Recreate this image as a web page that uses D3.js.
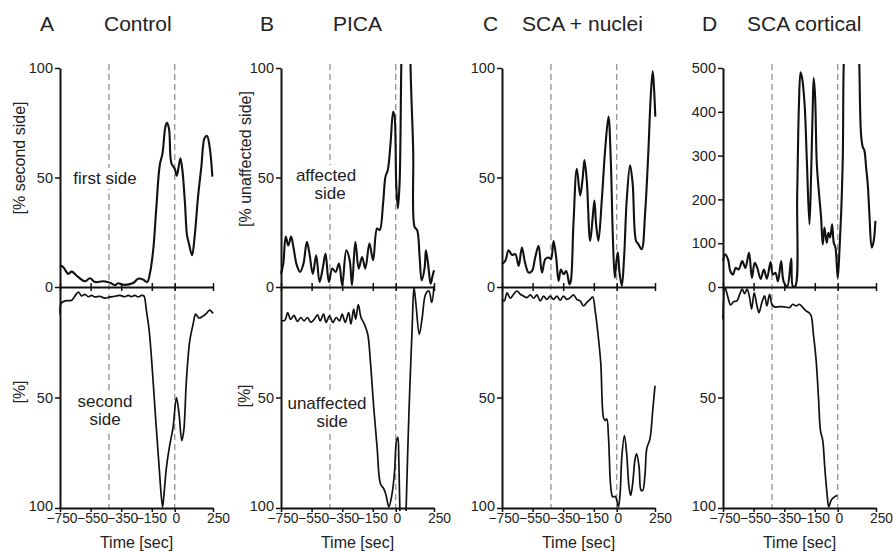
<!DOCTYPE html>
<html>
<head>
<meta charset="utf-8">
<script src="https://cdn.jsdelivr.net/npm/d3@7"></script>
<style>
  body { margin: 0; background: #fff; }
  svg { display: block; font-family: "Liberation Sans", Arial, sans-serif; }
</style>
</head>
<body>
<script>
// panel names and tick labels
const letters = ["A", "B", "C", "D"];
const titles = ["Control", "PICA", "SCA + nuclei", "SCA cortical"];
const xTicks = [-750, -550, -350, -150, 0, 250];
const pctTicks = [0, 50, 100];
const cortTicks = [0, 100, 200, 300, 400, 500];
const markTimes = [-430, 0];

// upper traces [time sec, value], values above the axis top run off the chart
const controlFirst = [[-750,9.9],[-728,9],[-696,6],[-674,7],[-630,4.5],[-587,2.6],[-554,4],[-522,2.3],[-467,2.6],[-424,2],[-391,0.8],[-370,1.7],[-337,1],[-272,1.8],[-239,3.8],[-207,3.4],[-180,2.3],[-163,6],[-141,16.8],[-120,36.6],[-98,55.7],[-80,61],[-61,73.3],[-50,75],[-37,72],[-22,56.5],[0,54],[13,50.8],[26,55],[37,58.8],[50,53.4],[67,38],[80,23.7],[93,19.8],[113,14.5],[130,23],[152,41],[174,55],[195,68],[211,69],[228,64],[246,50.4]];
const picaAffected = [[-750,6],[-735,10.7],[-719,23],[-702,19],[-684,23],[-669,18.3],[-647,10],[-625,6.9],[-603,10.7],[-581,20.6],[-564,15.3],[-542,6],[-520,14.5],[-498,2.3],[-476,9],[-459,15.3],[-437,2.3],[-415,8.4],[-393,6.9],[-371,10.7],[-350,0.8],[-323,16.8],[-301,12.2],[-286,0.8],[-264,20.6],[-242,8.4],[-220,13.7],[-199,8.4],[-172,19.8],[-148,12.2],[-122,26.7],[-105,26],[-83,38],[-67,50.4],[-52,53.4],[-34,65.6],[-17,80],[-8,78],[3,47.3],[14,35.9],[25,47.3],[36,100],[50,160],[70,200],[90,160],[97,100],[114,62.6],[123,27.5],[140,26],[156,13.7],[169,3],[189,9],[197,16.8],[211,10.7],[228,1.5],[239,4.6],[250,7.6]];
const scaNucleiUp = [[-750,10.4],[-728,12],[-707,16.8],[-685,14.7],[-663,15],[-641,9.6],[-620,18],[-598,10.7],[-576,6.6],[-554,7.3],[-533,13.5],[-511,18.8],[-489,6.6],[-467,12.7],[-446,13.5],[-430,12.7],[-413,21],[-396,13.5],[-380,2.8],[-365,8],[-348,5.8],[-330,7.3],[-309,1.2],[-300,2.8],[-283,28.8],[-261,54],[-239,41.8],[-222,50.2],[-211,58],[-196,48.7],[-174,21],[-157,31.9],[-146,39.5],[-135,28.8],[-120,21],[-98,39.5],[-76,62.5],[-54,77.8],[-39,57.9],[-26,24.2],[-13,4.3],[-4,10.4],[7,15.8],[17,7.3],[33,0.5],[48,13.5],[65,39.5],[87,55.6],[104,47.2],[126,21],[141,19.6],[163,17.3],[185,33.4],[207,62.5],[222,87],[235,98.5],[243,91.6],[252,77.8]];
const scaCorticalUp = [[-750,59],[-735,74.4],[-717,62.9],[-702,36],[-685,28.4],[-667,43.7],[-648,39.9],[-624,59],[-604,43.7],[-580,78.2],[-561,20.7],[-543,55.2],[-526,43.7],[-504,18.4],[-483,39.9],[-463,19.2],[-439,56.7],[-424,28.4],[-407,32.2],[-391,13],[-370,59],[-354,13],[-330,1.5],[-304,65.2],[-293,1.5],[-278,1.5],[-265,212],[-254,412],[-243,490],[-233,477],[-217,419],[-202,289],[-185,143],[-174,258],[-163,419],[-157,477],[-148,435],[-137,282],[-124,220],[-109,159],[-98,97],[-87,136],[-72,101],[-61,124],[-50,113],[-37,143],[-26,101],[-15,90],[0,20.7],[11,82],[22,166],[33,297],[39,507],[60,700],[100,800],[130,680],[141,507],[152,350],[163,320],[174,312],[185,274],[196,235],[207,166],[222,90],[235,105],[246,151]];

// lower traces [time sec, %], drawn downward
const controlSecond = [[-750,12.3],[-743,7.5],[-717,6.3],[-674,6],[-652,4],[-630,2.3],[-609,4],[-587,3.3],[-565,4.4],[-543,3.8],[-522,4.5],[-489,4.2],[-457,5],[-424,4.5],[-391,4.2],[-359,3.8],[-326,4.4],[-304,3.8],[-283,4.4],[-261,3.8],[-239,4.5],[-217,3.8],[-202,4],[-185,10.8],[-167,19.8],[-146,38],[-124,60.5],[-102,81.5],[-80,99.5],[-72,95],[-54,81.5],[-33,71.7],[-11,63.5],[11,50],[28,57.4],[46,69.5],[59,65],[76,42.4],[98,24.4],[120,16.8],[137,12.3],[157,14],[178,13.5],[202,12.3],[228,10.5],[250,12]];
const picaUnaffected = [[-750,15.3],[-724,15],[-706,11.6],[-687,14.6],[-665,12.8],[-643,15.6],[-621,13.8],[-599,15.3],[-577,13.8],[-555,16],[-533,14.6],[-511,12.6],[-494,15.3],[-472,12.3],[-455,16],[-433,13],[-411,16],[-389,13.8],[-367,15.3],[-350,12.3],[-330,16],[-308,11.6],[-293,16.8],[-275,10],[-262,14.6],[-245,8],[-227,13.8],[-205,16.8],[-183,21.4],[-166,33.4],[-144,54.4],[-122,72.5],[-100,89],[-78,91.3],[-63,94.3],[-45,99.5],[-24,93.5],[-8,83.8],[5,69.5],[14,68],[20,78.5],[27,101],[38,140],[53,150],[65,110],[68,100],[86,57.4],[108,16.8],[119,0.3],[132,7.8],[154,21.4],[173,13.8],[195,3.3],[217,1.8],[235,7],[250,-0.5]];
const scaNucleiDown = [[-750,5.6],[-735,6.3],[-717,2.6],[-696,5.1],[-674,3.3],[-652,1.8],[-630,3.3],[-609,4.1],[-587,4.8],[-565,3.6],[-543,5.1],[-522,3.6],[-500,6.3],[-478,4.1],[-457,5.6],[-435,4.1],[-413,5.6],[-391,4.1],[-370,6],[-348,4.1],[-326,5.6],[-304,4.8],[-283,3.6],[-261,5.6],[-239,6.3],[-217,8.6],[-196,7],[-174,5.6],[-157,4.5],[-141,10.8],[-120,22.9],[-104,34.9],[-87,59],[-76,60.5],[-65,59.7],[-54,67.8],[-39,90.5],[-26,95],[-11,94.7],[0,96.5],[11,99.5],[22,93.5],[33,77],[50,67.2],[65,75.5],[80,90.5],[91,94.3],[104,89],[120,77.7],[130,75.5],[146,81.5],[159,92],[170,92],[185,84.5],[196,73.2],[217,68.7],[235,56],[250,44.7]];
const scaCorticalDown = [[-750,14.6],[-737,0.3],[-717,4.8],[-700,8.1],[-680,6.6],[-659,6.3],[-641,3.3],[-624,1],[-609,3],[-593,1],[-576,4.8],[-563,10],[-546,2.6],[-530,7.8],[-515,11.6],[-496,7],[-478,4],[-463,8.6],[-446,3.3],[-430,7.8],[-413,9],[-380,8.9],[-348,9],[-315,9.3],[-293,7.8],[-272,8.6],[-250,7.8],[-228,9.3],[-207,10.8],[-189,11.6],[-174,13],[-159,21.4],[-141,33.4],[-126,50],[-113,65],[-98,69.5],[-85,81.5],[-70,93.5],[-59,99.5],[-43,96.5],[-22,95],[-4,94.3]];

const upperSeries = [controlFirst, picaAffected, scaNucleiUp, scaCorticalUp];
const lowerSeries = [controlSecond, picaUnaffected, scaNucleiDown, scaCorticalDown];

// layout of the four panels
const W = 893, H = 551;
const panelLeft = [60, 281, 502, 723];
const plotW = 153;
const yTop = 68, yZero = 287, yBottom = 508;
const titleX = [[40, 104], [260, 333], [483, 522], [702, 747]];
const upLabels = ["[% second side]", "[% unaffected side]", null, null];
const upLabelPos = [[19, 158], [245, 159]];
const lowLabelPos = [[19, 392], [244, 396]];
const notes = [
  { up: [[105, 184, "first side"]], down: [[105, 407, "second"], [105, 425, "side"]] },
  { up: [[326, 181, "affected"], [330, 199, "side"]], down: [[327, 409, "unaffected"], [332, 427, "side"]] },
  { up: [], down: [] },
  { up: [], down: [] }
];
// small nudges so the crowded time labels stay apart
const tickShift = { "-750": 1.5, "-550": 1.5, "-350": 1, "-150": -1, "0": 1, "250": 5 };

const svg = d3.select("body").append("svg")
  .attr("width", W).attr("height", H)
  .attr("xmlns", "http://www.w3.org/2000/svg");

svg.append("defs").append("clipPath").attr("id", "clip")
  .append("rect").attr("x", 0).attr("y", 64).attr("width", W).attr("height", 447);

const line = (x, y) => d3.line()
  .x(d => x(d[0])).y(d => y(d[1]))
  .curve(d3.curveCatmullRom.alpha(0.5));

letters.forEach((letter, i) => {
  const L = panelLeft[i];
  const x = d3.scaleLinear().domain([-750, 250]).range([L, L + plotW]);
  const upMax = i === 3 ? 500 : 100;
  const yUp = d3.scaleLinear().domain([0, upMax]).range([yZero, yTop]);
  const yDn = d3.scaleLinear().domain([0, 100]).range([yZero, yBottom]);
  const g = svg.append("g");

  // titles
  g.append("text").attr("x", titleX[i][0]).attr("y", 31)
    .attr("font-size", 21).attr("fill", "#222").text(letter);
  g.append("text").attr("x", titleX[i][1]).attr("y", 31)
    .attr("font-size", 21).attr("fill", "#222").text(titles[i]);

  // dashed markers
  g.selectAll("line.mark").data(markTimes).join("line")
    .attr("class", "mark")
    .attr("x1", d => x(d)).attr("x2", d => x(d))
    .attr("y1", 64).attr("y2", yBottom)
    .attr("stroke", "#888").attr("stroke-width", 1.2)
    .attr("stroke-dasharray", "6,4");

  // side labels with white backing so the dashes break behind them
  const addNotes = list => list.forEach(n => {
    const t = g.append("text").attr("x", n[0]).attr("y", n[1])
      .attr("text-anchor", "middle").attr("font-size", 17).attr("fill", "#222").text(n[2]);
    const b = t.node().getBBox();
    g.insert("rect", function () { return t.node(); })
      .attr("x", b.x - 2).attr("y", b.y - 1).attr("width", b.width + 4).attr("height", b.height + 2)
      .attr("fill", "#fff");
  });
  addNotes(notes[i].up);
  addNotes(notes[i].down);

  // traces
  const lines = g.append("g").attr("clip-path", "url(#clip)")
    .attr("fill", "none").attr("stroke", "#111").attr("stroke-linejoin", "round");
  lines.append("path").attr("d", line(x, yUp)(upperSeries[i])).attr("stroke-width", 2.1);
  lines.append("path").attr("d", line(x, yDn)(lowerSeries[i])).attr("stroke-width", 1.7);

  // axes
  const styleAxis = sel => {
    sel.select(".domain").attr("stroke", "#111").attr("stroke-width", 2);
    sel.selectAll(".tick line").attr("stroke", "#111").attr("stroke-width", 1.5);
    sel.selectAll(".tick text").attr("fill", "#222").attr("font-size", 14.5)
      .attr("font-family", "'Liberation Sans', Arial, sans-serif");
  };

  g.append("g").attr("transform", `translate(${L},0)`)
    .call(d3.axisLeft(yUp).tickValues(i === 3 ? cortTicks : pctTicks)
      .tickSize(5).tickSizeOuter(0).tickPadding(2))
    .call(styleAxis);
  g.append("g").attr("transform", `translate(${L},0)`)
    .call(d3.axisLeft(yDn).tickValues([50, 100]).tickSize(5).tickSizeOuter(0).tickPadding(2))
    .call(styleAxis)
    .selectAll(".tick text").attr("dy", d => d === 100 ? "0.2em" : "0.32em");

  const mid = g.append("g").attr("transform", `translate(0,${yZero})`)
    .call(d3.axisBottom(x).tickValues(xTicks).tickFormat("").tickSize(4).tickSizeOuter(0))
    .call(styleAxis);
  mid.selectAll(".tick line").attr("y1", -4);

  g.append("g").attr("transform", `translate(0,${yBottom})`)
    .call(d3.axisBottom(x).tickValues(xTicks).tickSize(4).tickSizeOuter(0).tickPadding(1))
    .call(styleAxis)
    .selectAll(".tick text")
    .attr("font-size", 13.8)
    .attr("dx", d => tickShift[String(d)]);

  g.append("text").attr("x", L + plotW / 2).attr("y", 548)
    .attr("text-anchor", "middle").attr("font-size", 16).attr("fill", "#222")
    .text("Time [sec]");

  // y titles on the first two panels
  if (upLabels[i]) {
    g.append("text")
      .attr("transform", `translate(${upLabelPos[i][0]},${upLabelPos[i][1]}) rotate(-90)`)
      .attr("text-anchor", "middle").attr("dy", "0.35em")
      .attr("font-size", 16).attr("fill", "#222").text(upLabels[i]);
    g.append("text")
      .attr("transform", `translate(${lowLabelPos[i][0]},${lowLabelPos[i][1]}) rotate(-90)`)
      .attr("text-anchor", "middle").attr("dy", "0.35em")
      .attr("font-size", 16).attr("fill", "#222").text("[%]");
  }
});
</script>
</body>
</html>
